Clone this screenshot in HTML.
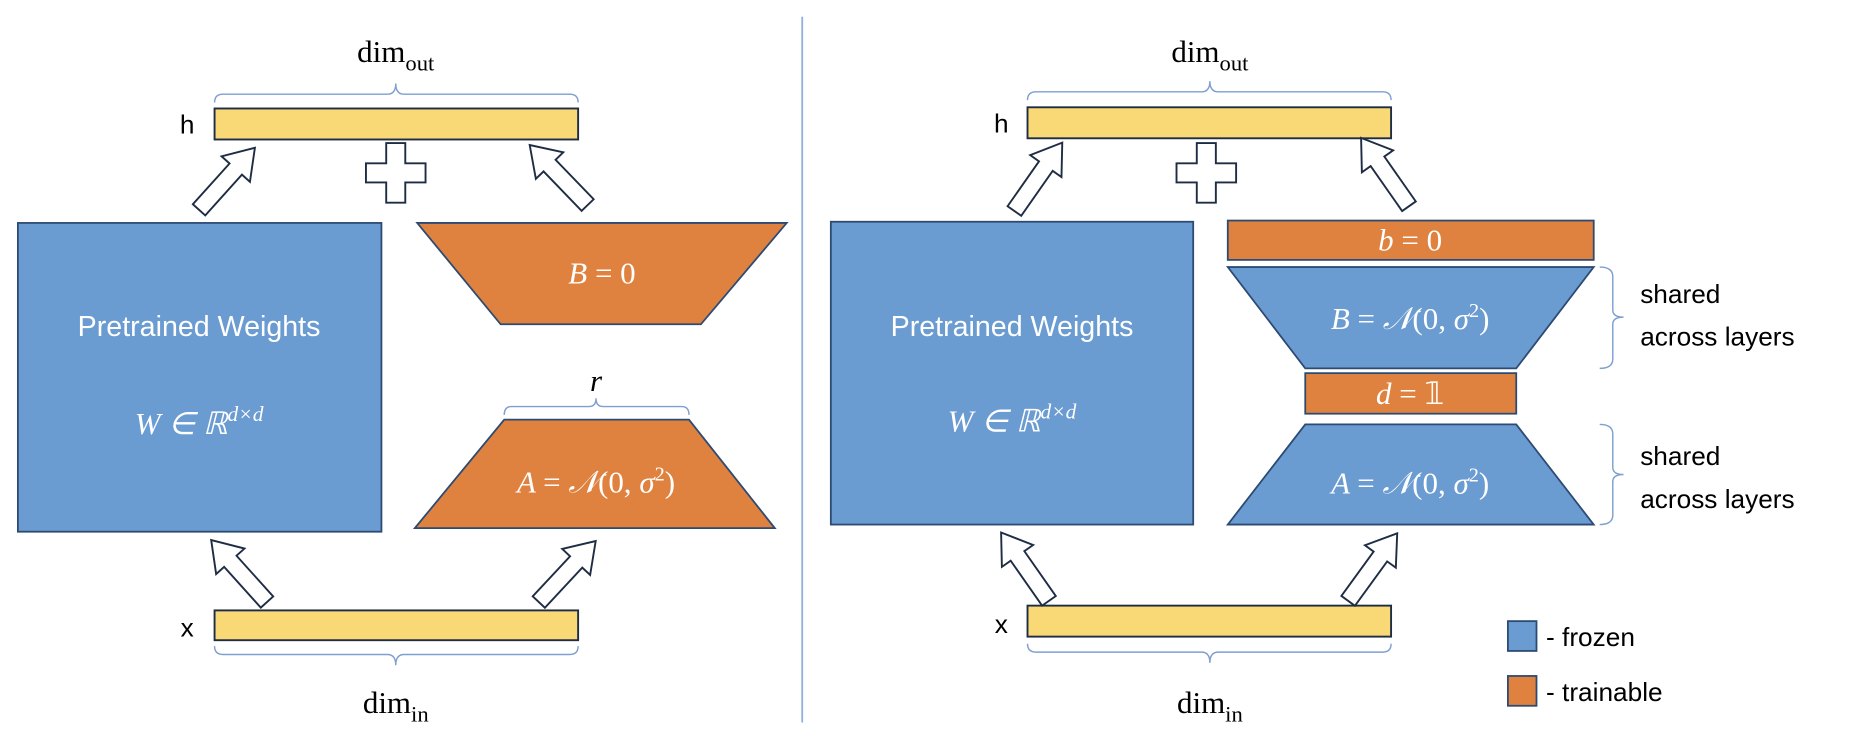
<!DOCTYPE html>
<html><head><meta charset="utf-8"><style>
html,body{margin:0;padding:0;background:#fff;}
svg{display:block;}
.m{font-family:"Liberation Serif",serif;font-style:italic;fill:#fff;}
.s{font-family:"Liberation Sans",sans-serif;}
</style></head><body>
<svg width="1850" height="732" viewBox="0 0 1552 614" preserveAspectRatio="none" xmlns="http://www.w3.org/2000/svg">
<defs>
<polygon id="ar" points="-7,0 7,0 7,-46 16,-46 0,-70 -16,-46 -7,-46" fill="#fff" stroke="#1f2d44" stroke-width="1.6"/>
<polygon id="plus" points="-8,-25 8,-25 8,-8 25,-8 25,8 8,8 8,25 -8,25 -8,8 -25,8 -25,-8 -8,-8" fill="#fff" stroke="#1f2d44" stroke-width="1.6"/>
</defs>
<line x1="673" y1="14" x2="673" y2="606" stroke="#8fb0dc" stroke-width="1.5"/>
<g fill="none" stroke="#7f9fd0" stroke-width="1.2">
<path d="M180,86 Q180,79 187,79 L325,79 Q332,79 332,70 Q332,79 339,79 L478,79 Q485,79 485,86"/>
<path d="M180,542 Q180,549 187,549 L325,549 Q332,549 332,558 Q332,549 339,549 L478,549 Q485,549 485,542"/>
<path d="M423,348 Q423,341 429,341 L494,341 Q500,341 500,334 Q500,341 506,341 L572,341 Q578,341 578,348"/>
<path d="M862,84 Q862,77 869,77 L1008,77 Q1015,77 1015,68 Q1015,77 1022,77 L1160,77 Q1167,77 1167,84"/>
<path d="M862,540 Q862,547 869,547 L1008,547 Q1015,547 1015,556 Q1015,547 1022,547 L1160,547 Q1167,547 1167,540"/>
<path d="M1342,224 Q1353,224 1353,232 L1353,260 Q1353,266 1362,266 Q1353,266 1353,272 L1353,301 Q1353,309 1342,309"/>
<path d="M1342,356 Q1353,356 1353,364 L1353,392 Q1353,398 1362,398 Q1353,398 1353,404 L1353,432 Q1353,440 1342,440"/>
</g>
<g font-family="Liberation Serif,serif" font-size="26" fill="#000" text-anchor="middle">
<text x="332" y="52">dim<tspan font-size="19" dy="7">out</tspan></text>
<text x="332" y="598">dim<tspan font-size="19" dy="7">in</tspan></text>
<text x="1015" y="52">dim<tspan font-size="19" dy="7">out</tspan></text>
<text x="1015" y="598">dim<tspan font-size="19" dy="7">in</tspan></text>
<text x="500" y="328" font-style="italic">r</text>
</g>
<g class="s" font-size="22" fill="#000" text-anchor="middle">
<text x="157" y="112">h</text><text x="157" y="534">x</text>
<text x="840" y="111">h</text><text x="840" y="531">x</text>
</g>
<g fill="#f9d976" stroke="#1f2d44" stroke-width="1.6">
<rect x="180" y="91" width="305" height="26"/>
<rect x="180" y="512" width="305" height="25"/>
<rect x="862" y="90" width="305" height="26"/>
<rect x="862" y="508" width="305" height="26"/>
</g>
<g stroke="#2c4a72" stroke-width="1.5">
<rect x="15" y="187" width="305" height="259" fill="#6a9bd1"/>
<polygon points="350,187 660,187 588,272 420,272" fill="#e0823f"/>
<polygon points="423,352 578,352 650,443 348,443" fill="#e0823f"/>
<rect x="697" y="186" width="304" height="254" fill="#6a9bd1"/>
<rect x="1030" y="185" width="307" height="33" fill="#e0823f"/>
<polygon points="1030,224 1337,224 1272,309 1095,309" fill="#6a9bd1"/>
<rect x="1095" y="313" width="177" height="34" fill="#e0823f"/>
<polygon points="1095,356 1272,356 1337,440 1030,440" fill="#6a9bd1"/>
<rect x="1265" y="521" width="24" height="25" fill="#6a9bd1"/>
<rect x="1265" y="567" width="24" height="25" fill="#e0823f"/>
</g>
<g class="s" font-size="24" fill="#fff" text-anchor="middle">
<text x="167" y="282">Pretrained Weights</text>
<text x="849" y="282">Pretrained Weights</text>
</g>
<g class="m" font-size="26" text-anchor="middle">
<text x="167" y="364">W ∈ ℝ<tspan font-size="18" dy="-11">d×d</tspan></text>
<text x="849" y="362">W ∈ ℝ<tspan font-size="18" dy="-11">d×d</tspan></text>
<text x="505" y="238">B <tspan font-style="normal">= 0</tspan></text>
<text x="500" y="413">A <tspan font-style="normal">=</tspan> 𝒩<tspan font-style="normal">(0, </tspan>σ<tspan font-size="17" dy="-10" font-style="normal">2</tspan><tspan dy="10" font-style="normal">)</tspan></text>
<text x="1183" y="210">b <tspan font-style="normal">= 0</tspan></text>
<text x="1183" y="276">B <tspan font-style="normal">=</tspan> 𝒩<tspan font-style="normal">(0, </tspan>σ<tspan font-size="17" dy="-10" font-style="normal">2</tspan><tspan dy="10" font-style="normal">)</tspan></text>
<text x="1183" y="339">d <tspan font-style="normal">= 𝟙</tspan></text>
<text x="1183" y="414">A <tspan font-style="normal">=</tspan> 𝒩<tspan font-style="normal">(0, </tspan>σ<tspan font-size="17" dy="-10" font-style="normal">2</tspan><tspan dy="10" font-style="normal">)</tspan></text>
</g>
<g class="s" font-size="22" fill="#000">
<text x="1376" y="254">shared</text><text x="1376" y="290">across layers</text>
<text x="1376" y="390">shared</text><text x="1376" y="426">across layers</text>
<text x="1297" y="542">- frozen</text><text x="1297" y="588">- trainable</text>
</g>
<use href="#ar" transform="translate(167,176) rotate(42)"/>
<use href="#ar" transform="translate(493,172) rotate(-44)"/>
<use href="#ar" transform="translate(224,505) rotate(-42)"/>
<use href="#ar" transform="translate(452,505) rotate(43)"/>
<use href="#plus" transform="translate(332,145)"/>
<use href="#ar" transform="translate(851,177) rotate(35)"/>
<use href="#ar" transform="translate(1182,173) rotate(-35)"/>
<use href="#ar" transform="translate(880,504) rotate(-35)"/>
<use href="#ar" transform="translate(1131,504) rotate(36)"/>
<use href="#plus" transform="translate(1012,145)"/>
</svg>
</body></html>
